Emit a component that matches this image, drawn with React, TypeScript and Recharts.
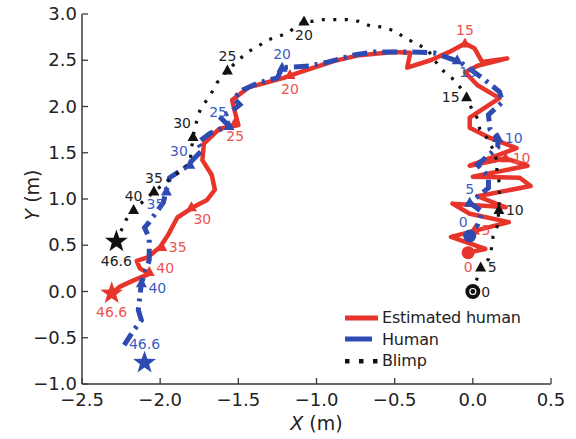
import React from 'react';
import { ComposedChart, Line, Scatter, XAxis, YAxis, Legend } from 'recharts';

const xTicks = [-2.5, -2.0, -1.5, -1.0, -0.5, 0.0, 0.5];
const yTicks = [-1.0, -0.5, 0.0, 0.5, 1.0, 1.5, 2.0, 2.5, 3.0];

// estimated human trajectory (red)
const estimatedPath = [
  { x: -0.03, y: 0.42 }, { x: 0.08, y: 0.46 }, { x: -0.14, y: 0.59 }, { x: 0.23, y: 0.75 },
  { x: -0.02, y: 0.84 }, { x: -0.13, y: 0.95 }, { x: 0.21, y: 0.91 }, { x: 0.03, y: 1.03 },
  { x: 0.37, y: 1.14 }, { x: 0.3, y: 1.23 }, { x: 0.0, y: 1.24 }, { x: 0.35, y: 1.36 },
  { x: 0.21, y: 1.44 }, { x: -0.02, y: 1.36 }, { x: 0.28, y: 1.55 }, { x: 0.11, y: 1.66 },
  { x: -0.02, y: 1.77 }, { x: -0.02, y: 1.88 }, { x: 0.17, y: 2.09 }, { x: 0.03, y: 2.23 },
  { x: -0.05, y: 2.37 }, { x: 0.03, y: 2.44 }, { x: 0.22, y: 2.52 }, { x: 0.06, y: 2.48 },
  { x: 0.01, y: 2.63 }, { x: -0.05, y: 2.68 }, { x: -0.15, y: 2.59 }, { x: -0.27, y: 2.5 },
  { x: -0.42, y: 2.42 }, { x: -0.4, y: 2.58 }, { x: -0.51, y: 2.59 }, { x: -0.74, y: 2.55 },
  { x: -0.89, y: 2.49 }, { x: -1.09, y: 2.38 }, { x: -1.21, y: 2.31 }, { x: -1.43, y: 2.21 },
  { x: -1.54, y: 2.07 }, { x: -1.52, y: 1.93 }, { x: -1.5, y: 1.8 }, { x: -1.62, y: 1.76 },
  { x: -1.72, y: 1.6 }, { x: -1.73, y: 1.42 }, { x: -1.67, y: 1.26 }, { x: -1.65, y: 1.1 },
  { x: -1.7, y: 0.99 }, { x: -1.79, y: 0.91 }, { x: -1.89, y: 0.8 }, { x: -1.95, y: 0.61 },
  { x: -2.0, y: 0.48 }, { x: -2.08, y: 0.37 }, { x: -2.15, y: 0.33 }, { x: -2.13, y: 0.25 },
  { x: -2.07, y: 0.19 }, { x: -2.17, y: 0.12 }, { x: -2.26, y: 0.05 }, { x: -2.31, y: -0.02 },
];

// ground-truth human trajectory (blue)
const humanPath = [
  { x: -0.02, y: 0.6 }, { x: 0.03, y: 0.72 }, { x: 0.06, y: 0.86 }, { x: -0.02, y: 0.96 },
  { x: 0.1, y: 1.12 }, { x: 0.1, y: 1.24 }, { x: 0.03, y: 1.37 }, { x: 0.16, y: 1.56 },
  { x: 0.16, y: 1.66 }, { x: 0.11, y: 1.75 }, { x: 0.1, y: 1.91 }, { x: 0.19, y: 2.05 },
  { x: 0.17, y: 2.16 }, { x: 0.06, y: 2.31 }, { x: -0.08, y: 2.48 }, { x: -0.25, y: 2.58 },
  { x: -0.4, y: 2.59 }, { x: -0.63, y: 2.59 }, { x: -0.75, y: 2.56 }, { x: -0.93, y: 2.48 },
  { x: -1.04, y: 2.44 }, { x: -1.12, y: 2.43 }, { x: -1.22, y: 2.42 }, { x: -1.25, y: 2.31 },
  { x: -1.38, y: 2.25 }, { x: -1.47, y: 2.18 }, { x: -1.53, y: 2.09 }, { x: -1.49, y: 2.02 },
  { x: -1.55, y: 1.94 }, { x: -1.62, y: 1.89 }, { x: -1.56, y: 1.79 }, { x: -1.68, y: 1.71 },
  { x: -1.76, y: 1.61 }, { x: -1.73, y: 1.53 }, { x: -1.84, y: 1.34 }, { x: -1.94, y: 1.23 },
  { x: -1.96, y: 1.1 }, { x: -1.98, y: 0.96 }, { x: -2.07, y: 0.75 }, { x: -2.1, y: 0.69 },
  { x: -2.07, y: 0.58 }, { x: -2.07, y: 0.34 }, { x: -2.12, y: 0.09 }, { x: -2.14, y: -0.2 },
  { x: -2.12, y: -0.31 }, { x: -2.17, y: -0.42 }, { x: -2.23, y: -0.58 },
];

// blimp trajectory (black dotted)
const blimpPath = [
  { x: 0.0, y: 0.0 }, { x: 0.05, y: 0.26 }, { x: 0.1, y: 0.35 }, { x: 0.12, y: 0.47 },
  { x: 0.13, y: 0.6 }, { x: 0.155, y: 0.7 }, { x: 0.167, y: 0.88 }, { x: 0.17, y: 1.05 },
  { x: 0.17, y: 1.17 }, { x: 0.155, y: 1.29 }, { x: 0.15, y: 1.43 }, { x: 0.13, y: 1.53 },
  { x: 0.1, y: 1.64 }, { x: 0.045, y: 1.75 }, { x: 0.03, y: 1.87 }, { x: -0.006, y: 1.97 },
  { x: -0.04, y: 2.1 }, { x: -0.09, y: 2.23 }, { x: -0.135, y: 2.31 }, { x: -0.2, y: 2.4 },
  { x: -0.245, y: 2.5 }, { x: -0.29, y: 2.62 }, { x: -0.365, y: 2.68 }, { x: -0.43, y: 2.74 },
  { x: -0.506, y: 2.82 }, { x: -0.577, y: 2.86 }, { x: -0.654, y: 2.87 }, { x: -0.73, y: 2.92 },
  { x: -0.8, y: 2.94 }, { x: -0.87, y: 2.94 }, { x: -0.955, y: 2.94 }, { x: -1.03, y: 2.92 },
  { x: -1.08, y: 2.92 }, { x: -1.19, y: 2.79 }, { x: -1.31, y: 2.72 }, { x: -1.385, y: 2.64 },
  { x: -1.44, y: 2.59 }, { x: -1.5, y: 2.5 }, { x: -1.57, y: 2.39 }, { x: -1.635, y: 2.26 },
  { x: -1.68, y: 2.12 }, { x: -1.74, y: 1.98 }, { x: -1.76, y: 1.89 }, { x: -1.79, y: 1.67 },
  { x: -1.81, y: 1.39 }, { x: -1.94, y: 1.21 }, { x: -2.04, y: 1.08 }, { x: -2.17, y: 0.88 },
  { x: -2.22, y: 0.77 }, { x: -2.28, y: 0.54 },
];

// time stamps (s) along each trajectory
const estimatedMarks = [
  { t: 0, x: -0.03, y: 0.42 }, { t: 5, x: 0.01, y: 0.66 }, { t: 10, x: 0.21, y: 1.44 },
  { t: 15, x: -0.05, y: 2.68 }, { t: 20, x: -1.17, y: 2.34 }, { t: 25, x: -1.52, y: 1.83 },
  { t: 30, x: -1.8, y: 0.91 }, { t: 35, x: -1.99, y: 0.48 }, { t: 40, x: -2.07, y: 0.21 },
  { t: 46.6, x: -2.31, y: -0.02 },
];
const humanMarks = [
  { t: 0, x: -0.02, y: 0.6 }, { t: 5, x: -0.02, y: 0.96 }, { t: 10, x: 0.16, y: 1.66 },
  { t: 15, x: -0.1, y: 2.5 }, { t: 20, x: -1.22, y: 2.42 }, { t: 25, x: -1.56, y: 1.79 },
  { t: 30, x: -1.81, y: 1.37 }, { t: 35, x: -1.96, y: 1.08 }, { t: 40, x: -2.12, y: 0.09 },
  { t: 46.6, x: -2.1, y: -0.77 },
];
const blimpMarks = [
  { t: 0, x: 0.0, y: 0.0 }, { t: 5, x: 0.05, y: 0.26 }, { t: 10, x: 0.167, y: 0.88 },
  { t: 15, x: -0.04, y: 2.1 }, { t: 20, x: -1.08, y: 2.92 }, { t: 25, x: -1.57, y: 2.39 },
  { t: 30, x: -1.79, y: 1.67 }, { t: 35, x: -2.04, y: 1.08 }, { t: 40, x: -2.17, y: 0.88 },
  { t: 46.6, x: -2.28, y: 0.54 },
];

const legendOrder = ['Estimated human', 'Human', 'Blimp'];

const RED = '#e8352b';
const BLUE = '#2e4bb1';
const BLACK = '#111111';
const AXIS = '#3a3a3a';
const TEXT = '#222222';
const FONT = '"DejaVu Sans", sans-serif';

// where each time label sits relative to its marker
const estimatedSides: Record<string, string> = {
  '0': 'b', '5': 'r', '10': 'r', '15': 't', '20': 'b', '25': 'b', '30': 'br', '35': 'r', '40': 'ru', '46.6': 'b',
};
const humanSides: Record<string, string> = {
  '0': 'tl', '5': 't', '10': 'r', '15': 'br', '20': 't', '25': 'tl', '30': 'tl', '35': 'bl', '40': 'rd', '46.6': 't',
};
const blimpSides: Record<string, string> = {
  '0': 'r', '5': 'r', '10': 'r', '15': 'l', '20': 'b', '25': 't', '30': 'tl', '35': 't', '40': 't', '46.6': 'b',
};

const fmt = (v: number) => (v < 0 ? '\u2212' + Math.abs(v).toFixed(1) : v.toFixed(1));

const starPoints = (cx: number, cy: number, ro: number, ri: number) => {
  const pts: string[] = [];
  for (let i = 0; i < 10; i++) {
    const r = i % 2 === 0 ? ro : ri;
    const a = -Math.PI / 2 + (i * Math.PI) / 5;
    pts.push(`${cx + r * Math.cos(a)},${cy + r * Math.sin(a)}`);
  }
  return pts.join(' ');
};

const labelPos = (side: string, cx: number, cy: number, r: number) => {
  switch (side) {
    case 'r': return { x: cx + r + 1, y: cy + 5, anchor: 'start' };
    case 'ru': return { x: cx + r + 1, y: cy + 1, anchor: 'start' };
    case 'rd': return { x: cx + r + 1, y: cy + 10, anchor: 'start' };
    case 'l': return { x: cx - r - 1, y: cy + 5, anchor: 'end' };
    case 't': return { x: cx, y: cy - r - 3, anchor: 'middle' };
    case 'b': return { x: cx, y: cy + r + 13, anchor: 'middle' };
    case 'tl': return { x: cx - 2, y: cy - r - 3, anchor: 'end' };
    case 'br': return { x: cx + 2, y: cy + r + 11, anchor: 'start' };
    case 'bl': return { x: cx - 2, y: cy + r + 11, anchor: 'end' };
    default: return { x: cx, y: cy, anchor: 'middle' };
  }
};

const makeMarker = (color: string, textColor: string, sides: Record<string, string>, startRing: boolean) =>
  (props: any) => {
    const { cx, cy, payload } = props;
    if (cx == null || cy == null) return <g />;
    const t = payload.t;
    let mark;
    let r = 6;
    if (t === 0) {
      r = startRing ? 7.5 : 6.5;
      mark = (
        <g>
          <circle cx={cx} cy={cy} r={r} fill={color} />
          {startRing && <circle cx={cx} cy={cy} r={3} fill="none" stroke="#fff" strokeWidth={1.2} />}
        </g>
      );
    } else if (t === 46.6) {
      r = 11;
      mark = <polygon points={starPoints(cx, cy, 12, 4.8)} fill={color} />;
    } else {
      mark = <polygon points={`${cx},${cy - 6} ${cx - 5.5},${cy + 4} ${cx + 5.5},${cy + 4}`} fill={color} />;
    }
    const p = labelPos(sides[String(t)] || 'r', cx, cy, r);
    return (
      <g>
        {mark}
        <text x={p.x} y={p.y} textAnchor={p.anchor as any} fontSize={14} fontFamily={FONT} fill={textColor}>
          {String(t)}
        </text>
      </g>
    );
  };

const BottomTick = (props: any) => {
  const { x, y, payload } = props;
  return (
    <g>
      <line x1={x} y1={y} x2={x} y2={y - 6} stroke={AXIS} strokeWidth={1.3} />
      <text x={x} y={y + 22} textAnchor="middle" fontSize={18} fontFamily={FONT} fill={TEXT}>
        {fmt(payload.value)}
      </text>
    </g>
  );
};

const LeftTick = (props: any) => {
  const { x, y, payload } = props;
  return (
    <g>
      <line x1={x} y1={y} x2={x + 6} y2={y} stroke={AXIS} strokeWidth={1.3} />
      <text x={x - 5} y={y + 6} textAnchor="end" fontSize={18} fontFamily={FONT} fill={TEXT}>
        {fmt(payload.value)}
      </text>
    </g>
  );
};

const TopTick = (props: any) => {
  const { x, y } = props;
  return <line x1={x} y1={y} x2={x} y2={y + 6} stroke={AXIS} strokeWidth={1.3} />;
};

const RightTick = (props: any) => {
  const { x, y } = props;
  return <line x1={x} y1={y} x2={x - 6} y2={y} stroke={AXIS} strokeWidth={1.3} />;
};

const XTitle = (props: any) => {
  const vb = props.viewBox || { x: 82, y: 384, width: 469, height: 55 };
  return (
    <text x={vb.x + vb.width / 2} y={vb.y + 46} textAnchor="middle" fontSize={19} fontFamily={FONT} fill={TEXT}>
      <tspan fontStyle="italic">X</tspan> (m)
    </text>
  );
};

const YTitle = (props: any) => {
  const vb = props.viewBox || { x: 0, y: 14, width: 82, height: 370 };
  const cx = vb.x + 39;
  const cy = vb.y + vb.height / 2 - 4;
  return (
    <text x={cx} y={cy} textAnchor="middle" fontSize={19} fontFamily={FONT} fill={TEXT} transform={`rotate(-90 ${cx} ${cy})`}>
      <tspan fontStyle="italic">Y</tspan> (m)
    </text>
  );
};

const sample = (name: string) => {
  if (name === 'Estimated human') {
    return <line x1={0} y1={6} x2={33} y2={6} stroke={RED} strokeWidth={5} />;
  }
  if (name === 'Human') {
    return <line x1={0} y1={6} x2={27} y2={6} stroke={BLUE} strokeWidth={5} />;
  }
  return (
    <g fill={BLACK}>
      <rect x={0} y={4} width={4.5} height={4.5} />
      <rect x={14} y={4} width={4.5} height={4.5} />
      <rect x={28} y={4} width={4.5} height={4.5} />
    </g>
  );
};

const LegendBox = (props: any) => {
  const items = (props.payload || [])
    .filter((p: any) => legendOrder.includes(p.value))
    .sort((a: any, b: any) => legendOrder.indexOf(a.value) - legendOrder.indexOf(b.value));
  return (
    <div style={{ fontFamily: FONT, fontSize: 16, color: TEXT }}>
      {items.map((it: any) => (
        <div key={it.value} style={{ display: 'flex', alignItems: 'center', height: 21.5 }}>
          <svg width={37} height={12} style={{ display: 'block' }}>{sample(it.value)}</svg>
          <span style={{ letterSpacing: -0.2 }}>{it.value}</span>
        </div>
      ))}
    </div>
  );
};

export default function App() {
  return (
    <div style={{ position: 'absolute', left: 0, top: 0, background: '#fff' }}>
      <ComposedChart width={576} height={439} margin={{ top: 14, right: 25, bottom: 0, left: 0 }}>
        <XAxis
          type="number"
          dataKey="x"
          domain={[-2.5, 0.5]}
          ticks={xTicks}
          allowDataOverflow
          height={55}
          tickSize={0}
          tickMargin={0}
          tick={<BottomTick />}
          axisLine={{ stroke: AXIS, strokeWidth: 1.5 }}
          label={<XTitle />}
        />
        <XAxis
          xAxisId="top"
          orientation="top"
          type="number"
          domain={[-2.5, 0.5]}
          ticks={xTicks}
          allowDataOverflow
          height={0}
          tickSize={0}
          tickMargin={0}
          tick={<TopTick />}
          axisLine={{ stroke: AXIS, strokeWidth: 1.5 }}
        />
        <YAxis
          type="number"
          dataKey="y"
          domain={[-1, 3]}
          ticks={yTicks}
          allowDataOverflow
          width={82}
          tickSize={0}
          tickMargin={0}
          tick={<LeftTick />}
          axisLine={{ stroke: AXIS, strokeWidth: 1.5 }}
          label={<YTitle />}
        />
        <YAxis
          yAxisId="right"
          orientation="right"
          type="number"
          domain={[-1, 3]}
          ticks={yTicks}
          allowDataOverflow
          width={0}
          tickSize={0}
          tickMargin={0}
          tick={<RightTick />}
          axisLine={{ stroke: AXIS, strokeWidth: 1.5 }}
        />
        <Line
          name="Estimated human"
          data={estimatedPath}
          dataKey="y"
          type="linear"
          stroke={RED}
          strokeWidth={4.5}
          strokeLinejoin="round"
          strokeLinecap="round"
          dot={false}
          activeDot={false}
          isAnimationActive={false}
        />
        <Line
          name="Human"
          data={humanPath}
          dataKey="y"
          type="linear"
          stroke={BLUE}
          strokeWidth={5}
          strokeDasharray="15 6 3 6"
          dot={false}
          activeDot={false}
          isAnimationActive={false}
        />
        <Line
          name="Blimp"
          data={blimpPath}
          dataKey="y"
          type="linear"
          stroke={BLACK}
          strokeWidth={3.2}
          strokeDasharray="3 8.5"
          dot={false}
          activeDot={false}
          isAnimationActive={false}
        />
        <Scatter
          data={estimatedMarks}
          dataKey="y"
          legendType="none"
          shape={makeMarker(RED, '#ee5350', estimatedSides, false)}
          isAnimationActive={false}
        />
        <Scatter
          data={humanMarks}
          dataKey="y"
          legendType="none"
          shape={makeMarker(BLUE, '#3d5cc2', humanSides, false)}
          isAnimationActive={false}
        />
        <Scatter
          data={blimpMarks}
          dataKey="y"
          legendType="none"
          shape={makeMarker(BLACK, TEXT, blimpSides, true)}
          isAnimationActive={false}
        />
        <Legend
          layout="vertical"
          align="center"
          verticalAlign="middle"
          content={<LegendBox />}
          wrapperStyle={{ left: 345, top: 307, width: 'auto', height: 'auto' }}
        />
      </ComposedChart>
    </div>
  );
}
